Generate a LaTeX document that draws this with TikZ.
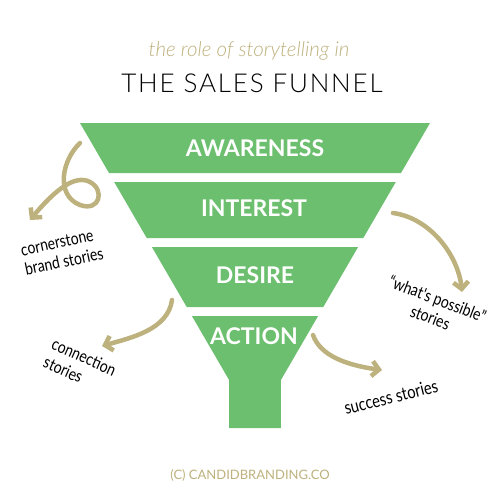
\documentclass[tikz,border=0pt]{standalone}
\usepackage{fontspec}
\setmainfont{Lato}
\newfontfamily\handfont{Lato}[FakeStretch=0.82]
\newfontfamily\titlefont{Lato Light}[LetterSpace=7]
\newfontfamily\subfont{Lato Light}
\usetikzlibrary{arrows.meta}
\definecolor{funnelgreen}{RGB}{108,191,110}
\definecolor{storygold}{RGB}{189,177,125}

\begin{document}
\begin{tikzpicture}[x=1pt,y=-1pt,
  band/.style={fill=funnelgreen},
  stage/.style={text=white,font=\bfseries\fontsize{23}{23}\selectfont},
  story/.style={font=\handfont\fontsize{17}{20}\selectfont,inner sep=0pt},
  storyarrow/.style={draw=storygold,line width=4.5pt,line cap=round,
    -{Straight Barb[length=7pt,width=15pt]}}]
\useasboundingbox (0,0) rectangle (500,500);

% headings
\node[text=storygold,font=\subfont\itshape\fontsize{20.5}{20.5}\selectfont] (subtitle) at (249,51) {the role of storytelling in};
\node[font=\titlefont\fontsize{26}{26}\selectfont] (title) at (252,83) {THE SALES FUNNEL};

% funnel bands
\fill[band] (80,123) -- (430,123) -- (401,173) -- (109,173) -- cycle;
\fill[band] (114.2,182) -- (395.8,182) -- (363.3,238) -- (146.7,238) -- cycle;
\fill[band] (151.9,247) -- (358.1,247) -- (323.3,307) -- (186.7,307) -- cycle;
\fill[band] (191.9,316) -- (318.1,316) -- (280.9,380) -- (280.9,428) -- (229.1,428) -- (229.1,380) -- cycle;

\node[stage] (awareness) at (255,148) {AWARENESS};
\node[stage] (interest) at (254,208) {INTEREST};
\node[stage] (desire) at (255,275) {DESIRE};
\node[stage] (action) at (254,336) {ACTION};

% story labels
\node[story,align=left,rotate=12] (cornerstone) at (62,252) {cornerstone\\brand stories};
\node[story,align=center,rotate=-21] (possible) at (434,308) {“what's possible”\\stories};
\node[story,align=left,rotate=-24] (connection) at (80,366) {connection\\stories};
\node[story,font=\handfont\fontsize{18}{20}\selectfont,rotate=14] (success) at (391,397) {success stories};

% arrow ends
\coordinate (c1) at (80,143);  \coordinate (e1) at (30,220);
\coordinate (c2) at (393,213); \coordinate (e2) at (462,292);
\coordinate (c3) at (172,300); \coordinate (e3) at (102,346);
\coordinate (c4) at (313,335); \coordinate (e4) at (382,370);

\draw[storyarrow] (c1) .. controls (62,160) and (55,195) .. (80,205)
  .. controls (100,212) and (105,190) .. (90,182)
  .. controls (75,174) and (55,190) .. (e1);
\draw[storyarrow] (c2) .. controls (430,218) and (458,255) .. (e2);
\draw[storyarrow] (c3) .. controls (168,330) and (130,338) .. (e3);
\draw[storyarrow] (c4) .. controls (320,355) and (345,365) .. (e4);

% footer
\node[text=storygold,font=\fontsize{13}{13}\selectfont] (credit) at (250,475) {(C) CANDIDBRANDING.CO};
\end{tikzpicture}
\end{document}
